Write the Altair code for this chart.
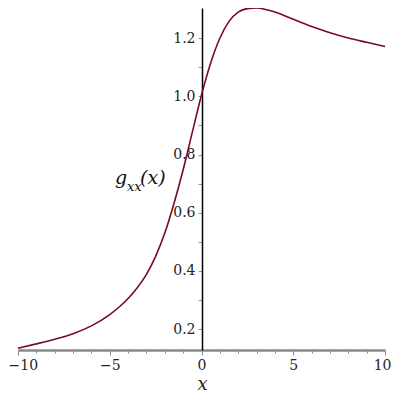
import altair as alt
import pandas as pd

xs = [-10, -9, -8, -7, -6, -5, -4.5, -4, -3.5, -3, -2.5, -2, -1.5, -1, -0.5,
      0, 0.5, 1, 1.5, 2, 2.5, 3, 3.5, 4, 5, 6, 7, 8, 9, 10]
gs = [0.134, 0.149, 0.165, 0.184, 0.211, 0.250, 0.275, 0.305, 0.342, 0.388,
      0.450, 0.530, 0.632, 0.748, 0.877, 1.005, 1.115, 1.200, 1.258, 1.290,
      1.302, 1.304, 1.299, 1.290, 1.265, 1.240, 1.219, 1.201, 1.186, 1.172]

x_ticks = list(range(-10, 11))
y_ticks = [0.2, 0.3, 0.4, 0.5, 0.6, 0.7, 0.8, 0.9, 1.0, 1.1, 1.2]

df = pd.DataFrame({"x": xs, "g": gs})

FONT = "DejaVu Serif"

xscale = alt.Scale(domain=[-10, 10], nice=False, zero=False)
yscale = alt.Scale(domain=[0.128, 1.304], nice=False, zero=False)

line = alt.Chart(df).mark_line(color="#7a0a1e", strokeWidth=1.6, interpolate="monotone").encode(
    x=alt.X("x:Q", scale=xscale, axis=alt.Axis(
        values=x_ticks,
        labelExpr="datum.value % 5 === 0 ? replace(format(datum.value, 'd'), '-', '\u2212') : ''",
        grid=False, domainColor="#8a8a8a", domainWidth=2.5,
        tickColor="#8a8a8a", tickWidth=1,
        tickSize={"condition": {"test": "datum.value % 5 === 0", "value": 5}, "value": 3},
        labelAlign={"condition": [{"test": "datum.value === -10", "value": "left"},
                                  {"test": "datum.value === 10", "value": "right"}],
                    "value": "center"},
        labelOffset={"condition": [{"test": "datum.value === -10", "value": -10},
                                   {"test": "datum.value === 10", "value": 6}],
                     "value": 0},
        labelFont=FONT, labelFontSize=14, labelColor="#222222", labelPadding=3,
        labelFlush=False, labelOverlap=False,
        title="x", titleFont=FONT, titleFontStyle="italic", titleFontWeight="normal",
        titleFontSize=18, titleColor="#222222", titleX=184, titleY=39,
        titleAlign="center", titleBaseline="alphabetic",
    )),
    y=alt.Y("g:Q", scale=yscale, axis=alt.Axis(
        values=y_ticks, offset=-184,
        labelExpr="round(datum.value * 10) % 2 === 0 ? format(datum.value, '.1f') : ''",
        grid=False, domainColor="#000000", domainWidth=1.5,
        tickColor="#9a9a9a", tickWidth=1, tickSize=4,
        labelFont=FONT, labelFontSize=14, labelColor="#222222", labelPadding=3,
        labelFlush=False, labelOverlap=False, title=None,
    )),
)

t1 = alt.Chart(pd.DataFrame({"t": ["g"]})).mark_text(
    font=FONT, fontStyle="italic", fontSize=19, align="left", baseline="alphabetic", color="#111111"
).encode(text="t:N", x=alt.value(97), y=alt.value(176))
t2 = alt.Chart(pd.DataFrame({"t": ["xx"]})).mark_text(
    font=FONT, fontStyle="italic", fontSize=13, align="left", baseline="alphabetic", color="#111111"
).encode(text="t:N", x=alt.value(109), y=alt.value(183))
t3 = alt.Chart(pd.DataFrame({"t": ["(x)"]})).mark_text(
    font=FONT, fontStyle="italic", fontSize=19, align="left", baseline="alphabetic", color="#111111"
).encode(text="t:N", x=alt.value(122), y=alt.value(176))

chart = alt.layer(line, t1, t2, t3).properties(
    width=367, height=342,
    autosize=alt.AutoSizeParams(type="none"),
    padding={"left": 10, "top": 0, "right": 7, "bottom": 42},
).configure_view(stroke=None)

chart.save("out.html", embed_options={"renderer": "svg", "actions": False})
